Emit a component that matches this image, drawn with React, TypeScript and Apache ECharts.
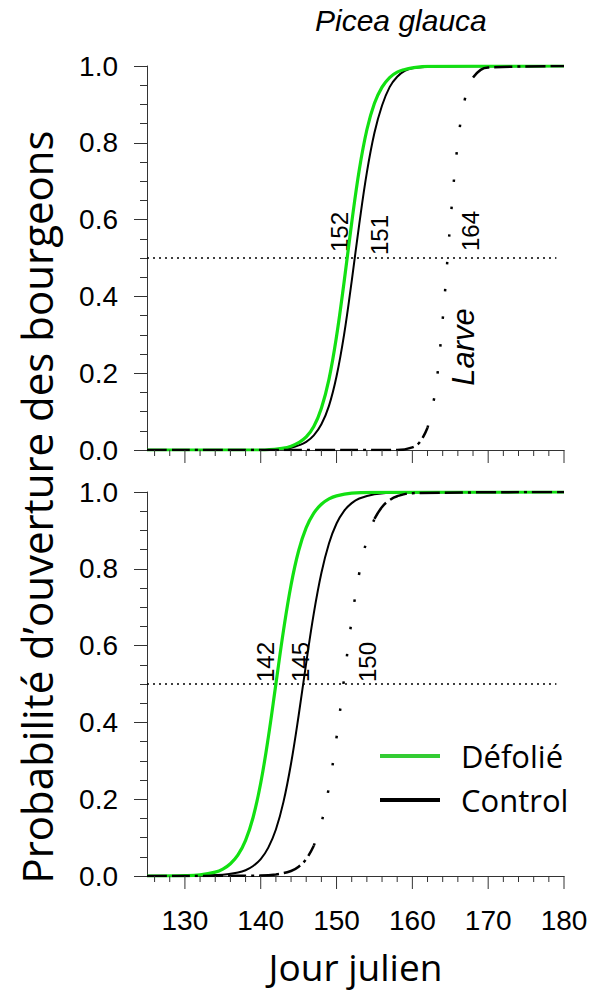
import React, { useEffect, useRef } from "react";
import * as echarts from "echarts";

// ---- data ----
const topDefX = [125, 140, 143, 144, 145, 146, 147, 148, 149, 150, 151, 152, 153, 154, 155, 156, 157, 158, 159, 160, 162, 180];
const topDefY = [0, 0, 0.005, 0.01, 0.019, 0.034, 0.061, 0.109, 0.184, 0.296, 0.438, 0.592, 0.73, 0.834, 0.903, 0.945, 0.97, 0.984, 0.991, 0.995, 0.999, 1];

const topCtlX = [125, 140, 143, 144, 145, 146, 147, 148, 149, 150, 151, 152, 153, 154, 155, 156, 157, 158, 159, 160, 162, 164, 180];
const topCtlY = [0, 0, 0.004, 0.006, 0.012, 0.021, 0.038, 0.067, 0.115, 0.192, 0.301, 0.44, 0.589, 0.723, 0.826, 0.897, 0.945, 0.972, 0.987, 0.994, 0.998, 0.999, 1];

const topLarX = [125, 158, 160, 161, 162, 163, 164, 165, 166, 167, 168, 169, 170, 180];
const topLarY = [0, 0, 0.007, 0.021, 0.058, 0.15, 0.34, 0.59, 0.8, 0.92, 0.97, 0.99, 0.996, 1];

const botDefX = [125, 130, 132, 134, 135, 136, 137, 138, 139, 140, 141, 142, 143, 144, 145, 146, 147, 148, 149, 150, 152, 155, 180];
const botDefY = [0, 0.001, 0.003, 0.01, 0.018, 0.032, 0.055, 0.093, 0.153, 0.242, 0.361, 0.5, 0.639, 0.758, 0.847, 0.907, 0.945, 0.968, 0.982, 0.99, 0.997, 0.999, 1];

const botCtlX = [125, 130, 135, 137, 138, 139, 140, 141, 142, 143, 144, 145, 146, 147, 148, 149, 150, 151, 152, 153, 155, 158, 180];
const botCtlY = [0, 0, 0.003, 0.009, 0.015, 0.026, 0.044, 0.074, 0.121, 0.193, 0.293, 0.418, 0.555, 0.684, 0.789, 0.866, 0.918, 0.951, 0.971, 0.983, 0.994, 0.999, 1];

const botLarX = [125, 140, 142, 144, 145, 146, 147, 148, 149, 150, 151, 152, 153, 154, 155, 156, 157, 158, 160, 180];
const botLarY = [0, 0.001, 0.004, 0.013, 0.024, 0.044, 0.079, 0.138, 0.232, 0.361, 0.515, 0.667, 0.789, 0.875, 0.93, 0.961, 0.979, 0.989, 0.997, 1];

// larva curve: where its drawn style changes (day)
const topLarBreaks = [162, 168];
const botLarBreaks = [147, 155];

const refLineX = [125, 179];
const refLineY = [0.5, 0.5];

const majorTicks = [130, 140, 150, 160, 170, 180];
const minorTicks = [126, 128, 132, 134, 136, 138, 142, 144, 146, 148, 152, 154, 156, 158, 162, 164, 166, 168, 172, 174, 176, 178];

const topLabels = ["152", "151", "164"];
const botLabels = ["142", "145", "150"];

const GREEN = "#12e012";
const AXIS = "#333";

const pairs = (xs: number[], ys: number[]) => xs.map((x, i) => [x, ys[i]]);
const slice = (xs: number[], ys: number[], lo: number, hi: number) =>
  pairs(xs, ys).filter((p) => p[0] >= lo && p[0] <= hi);

export default function App() {
  const ref = useRef<HTMLDivElement>(null);
  useEffect(() => {
    if (!ref.current) return;
    const chart = echarts.init(ref.current, null, { renderer: "svg" });

    const yAxisBase = (gi: number) => ({
      type: "value",
      gridIndex: gi,
      min: 0,
      max: 1,
      interval: 0.2,
      axisLine: { show: true, lineStyle: { color: AXIS, width: 1 } },
      axisTick: { show: true, length: 13, lineStyle: { color: AXIS } },
      minorTick: { show: true, splitNumber: 4, length: 7, lineStyle: { color: AXIS } },
      splitLine: { show: false },
      axisLabel: {
        margin: 29,
        fontFamily: "Liberation Sans",
        fontSize: 28,
        color: "#000",
        formatter: (v: number) => v.toFixed(1),
      },
    });
    const xAxisBase = (gi: number, labels: boolean) => ({
      type: "value",
      gridIndex: gi,
      min: 125,
      max: 180,
      interval: 5,
      axisLine: { show: true, onZero: false, lineStyle: { color: AXIS, width: 1 } },
      axisTick: { show: false },
      splitLine: { show: false },
      axisLabel: {
        show: labels,
        margin: 30,
        fontFamily: "Liberation Sans",
        fontSize: 28,
        color: "#000",
        formatter: (v: number) => (v % 10 === 0 ? String(v) : ""),
      },
      ...(labels
        ? {
            name: "Jour julien",
            nameLocation: "middle",
            nameGap: 72,
            nameTextStyle: { fontFamily: "Open Sans", fontSize: 37, color: "#000" },
          }
        : {}),
    });

    const tickSeries = (gi: number, ticks: number[], len: number) => ({
      type: "custom",
      xAxisIndex: gi,
      yAxisIndex: gi,
      silent: true,
      clip: false,
      z: 5,
      data: ticks.map((t) => [t, 0]),
      encode: { x: 0, y: 1 },
      renderItem: (params: any, api: any) => {
        const p = api.coord([api.value(0), 0]);
        return {
          type: "line",
          shape: { x1: p[0], y1: p[1], x2: p[0], y2: p[1] + len },
          style: { stroke: AXIS, lineWidth: 1 },
        };
      },
    });

    const line = (gi: number, name: string, data: number[][], color: string, width: number, dash?: any, z = 2) => ({
      type: "line",
      name,
      xAxisIndex: gi,
      yAxisIndex: gi,
      data,
      symbol: "none",
      showSymbol: false,
      smooth: 0.4,
      z,
      lineStyle: { color, width, type: dash || "solid", cap: "butt" },
      silent: true,
    });

    const dashDot = [20, 5, 18, 5, 3, 5];
    const dots = [2.5, 25];

    const larveSeries = (gi: number, xs: number[], ys: number[], br: number[]) => [
      line(gi, "Larve", slice(xs, ys, 125, br[0]), "#000", 2.5, dashDot, 4),
      line(gi, "Larve", slice(xs, ys, br[0], br[1]), "#000", 2.5, dots, 4),
      line(gi, "Larve", slice(xs, ys, br[1], 180), "#000", 2.5, dashDot, 4),
    ];

    const refSeries = (gi: number) => ({
      type: "line",
      name: "ref",
      xAxisIndex: gi,
      yAxisIndex: gi,
      data: pairs(refLineX, refLineY),
      symbol: "none",
      silent: true,
      z: 1,
      lineStyle: { color: "#000", width: 1.5, type: [2, 4] },
    });

    const rotText = (text: string, x: number, y: number, size: number, italic = false) => ({
      type: "text",
      x,
      y,
      rotation: Math.PI / 2,
      style: {
        text,
        fontFamily: "Liberation Sans",
        fontSize: size,
        fontStyle: italic ? "italic" : "normal",
        fill: "#000",
        align: "center",
        verticalAlign: "middle",
      },
    });

    chart.setOption({
      animation: false,
      backgroundColor: "#fff",
      title: {
        text: "Picea glauca",
        left: 310,
        top: 0,
        textStyle: {
          fontFamily: "Liberation Sans",
          fontStyle: "italic",
          fontWeight: "normal",
          fontSize: 30,
          color: "#000",
        },
      },
      legend: {
        data: [
          { name: "Défolié", itemStyle: { color: "#33cc33" } },
          { name: "Control", itemStyle: { color: "#000" } },
        ],
        orient: "vertical",
        left: 375,
        top: 733,
        icon: "rect",
        itemWidth: 60,
        itemHeight: 4,
        itemGap: 8,
        selectedMode: false,
        textStyle: {
          fontFamily: "Open Sans",
          fontSize: 31,
          lineHeight: 36,
          color: "#000",
          padding: [0, 0, 0, 16],
        },
      },
      grid: [
        { left: 147, width: 417, top: 66, height: 384 },
        { left: 147, width: 417, top: 492, height: 384 },
      ],
      xAxis: [xAxisBase(0, false), xAxisBase(1, true)],
      yAxis: [yAxisBase(0), yAxisBase(1)],
      graphic: [
        {
          type: "text",
          x: 36,
          y: 507,
          rotation: Math.PI / 2,
          style: {
            text: "Probabilité d’ouverture des bourgeons",
            fontFamily: "Open Sans",
            fontSize: 42,
            fill: "#000",
            align: "center",
            verticalAlign: "middle",
          },
        },
        rotText(topLabels[0], 339, 232, 24),
        rotText(topLabels[1], 379, 235, 24),
        rotText(topLabels[2], 470, 231, 24),
        rotText("Larve", 463, 347, 31, true),
        rotText(botLabels[0], 265, 662, 24),
        rotText(botLabels[1], 300, 662, 24),
        rotText(botLabels[2], 367, 662, 24),
      ],
      series: [
        refSeries(0),
        refSeries(1),
        line(0, "Control", pairs(topCtlX, topCtlY), "#000", 2, undefined, 2),
        line(0, "Défolié", pairs(topDefX, topDefY), GREEN, 3.2, undefined, 3),
        ...larveSeries(0, topLarX, topLarY, topLarBreaks),
        line(1, "Control", pairs(botCtlX, botCtlY), "#000", 2, undefined, 2),
        line(1, "Défolié", pairs(botDefX, botDefY), GREEN, 3.2, undefined, 3),
        ...larveSeries(1, botLarX, botLarY, botLarBreaks),
        tickSeries(0, majorTicks, 13),
        tickSeries(0, minorTicks, 6),
        tickSeries(1, majorTicks, 13),
        tickSeries(1, minorTicks, 6),
      ],
    });
    return () => chart.dispose();
  }, []);
  return (
    <div
      ref={ref}
      style={{ position: "absolute", left: 0, top: 0, width: 595, height: 993, background: "#fff" }}
    />
  );
}
